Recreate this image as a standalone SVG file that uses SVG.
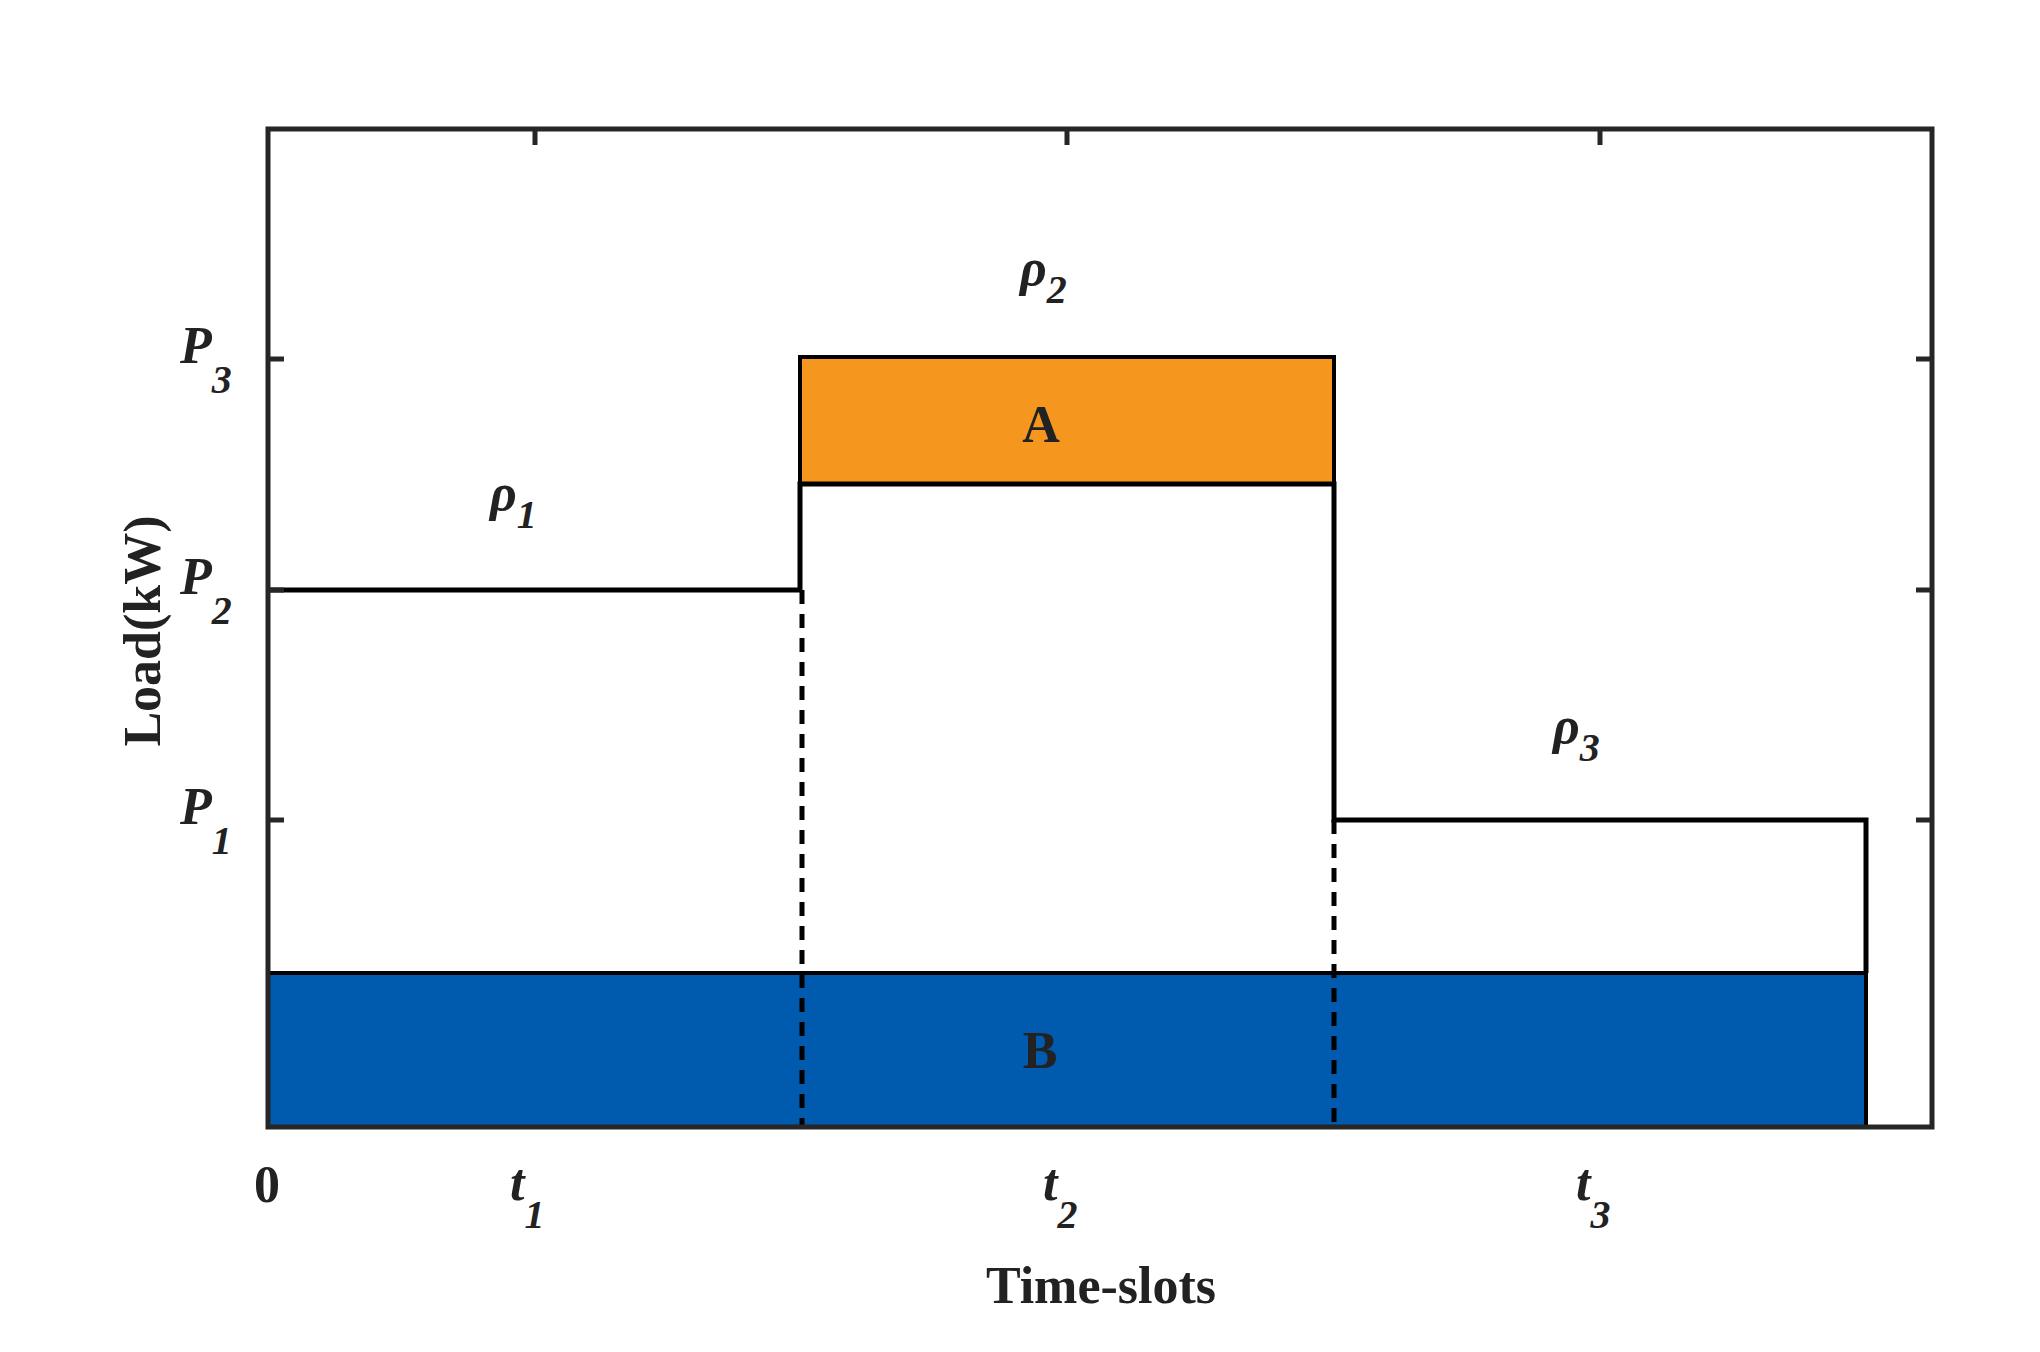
<svg xmlns="http://www.w3.org/2000/svg" width="2040" height="1352" viewBox="0 0 2040 1352">
<style>
.t{font-family:"Liberation Serif",serif;font-weight:bold;fill:#222;}
.i{font-style:italic;font-size:52px;}
.s{font-size:40px;}
.ax{fill:none;stroke:#262626;stroke-width:5;}
.ln{fill:none;stroke:#000;stroke-width:5;}
</style>
<rect width="2040" height="1352" fill="#fff"/>
<g id="blockB"><rect x="268" y="973" width="1598" height="154" fill="#005aad" stroke="#000" stroke-width="4"/><text class="t" x="1040" y="1068" font-size="52" text-anchor="middle" fill="#111">B</text></g>
<g id="blockA"><rect x="800" y="357" width="534" height="127" fill="#f5961e" stroke="#000" stroke-width="4"/><text class="t" x="1041" y="442" font-size="52" text-anchor="middle" fill="#111">A</text></g>
<g id="connectors">
<polyline class="ln" points="268,590 800,590 800,484 1334,484 1334,820 1866,820 1866,973"/>
<line class="ln" x1="802" y1="590" x2="802" y2="1127" stroke-dasharray="14,10" stroke-width="4"/>
<line class="ln" x1="1334" y1="820" x2="1334" y2="1127" stroke-dasharray="14,10" stroke-width="4"/>
</g>
<g id="axes">
<rect class="ax" x="268" y="129" width="1664" height="998"/>
<path class="ax" d="M535,129v16M1067,129v16M1600,129v16M268,359h16M268,590h16M268,820h16M1932,359h-16M1932,590h-16M1932,820h-16"/>
</g>
<g id="labels">
<text class="t i" x="490" y="510">ρ<tspan class="s" dy="18">1</tspan></text>
<text class="t i" x="1020" y="285">ρ<tspan class="s" dy="18">2</tspan></text>
<text class="t i" x="1553" y="743">ρ<tspan class="s" dy="18">3</tspan></text>
<text class="t i" x="180" y="363">P<tspan class="s" dy="30">3</tspan></text>
<text class="t i" x="180" y="594">P<tspan class="s" dy="30">2</tspan></text>
<text class="t i" x="180" y="824">P<tspan class="s" dy="30">1</tspan></text>
<text class="t" x="267" y="1202" font-size="52" text-anchor="middle">0</text>
<text class="t i" x="510" y="1200">t<tspan class="s" dy="28">1</tspan></text>
<text class="t i" x="1043" y="1200">t<tspan class="s" dy="28">2</tspan></text>
<text class="t i" x="1576" y="1200">t<tspan class="s" dy="28">3</tspan></text>
<text class="t" x="1101" y="1303" font-size="52" text-anchor="middle">Time-slots</text>
<text class="t" font-size="52" text-anchor="middle" transform="translate(160,631) rotate(-90)">Load(kW)</text>
</g>
</svg>
